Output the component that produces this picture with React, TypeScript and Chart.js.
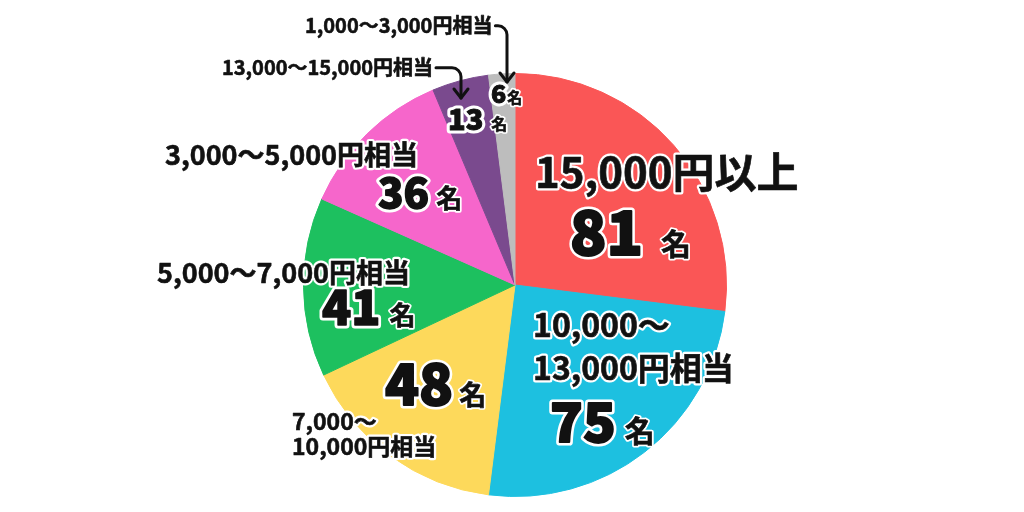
import { useEffect, useRef } from 'react';
import { Chart, registerables } from 'chart.js';

Chart.register(...registerables);

// 回答者数（合計300名）— 12時の位置から時計回り
const categories = [
  '15,000円以上',
  '10,000～13,000円相当',
  '7,000～10,000円相当',
  '5,000～7,000円相当',
  '3,000～5,000円相当',
  '13,000～15,000円相当',
  '1,000～3,000円相当',
];
const counts = [81, 75, 48, 41, 36, 13, 6];
const unit = '名';
const sliceColors = ['#fa5656', '#1dc0e0', '#fdd95b', '#1dc05f', '#f666cb', '#7a4a8e', '#bdbdbd'];

const FONT = "'Noto Sans CJK JP', 'Noto Sans', sans-serif";

// label layout, offsets from the pie centre (px)
type Layout = {
  lines: { dx: number; dy: number }[];
  breakAfterTilde: boolean;
  nameSize: number;
  num: { dx: number; dy: number; size: number };
  unitSize: number;
  unitGap: number;
  arrow?: { x: number; tip: number };
};

const LAYOUT: Layout[] = [
  { lines: [{ dx: 20, dy: -97 }], breakAfterTilde: false, nameSize: 42, num: { dx: 55, dy: -30, size: 60 }, unitSize: 30, unitGap: 18 },
  { lines: [{ dx: 18, dy: 52 }, { dx: 18, dy: 95 }], breakAfterTilde: true, nameSize: 32, num: { dx: 35, dy: 157, size: 54 }, unitSize: 30, unitGap: 9 },
  { lines: [{ dx: -223, dy: 145 }, { dx: -223, dy: 170 }], breakAfterTilde: true, nameSize: 23, num: { dx: -130, dy: 120, size: 56 }, unitSize: 27, unitGap: 6 },
  { lines: [{ dx: -358, dy: -2 }], breakAfterTilde: false, nameSize: 27, num: { dx: -193, dy: 40, size: 48 }, unitSize: 26, unitGap: 9 },
  { lines: [{ dx: -350, dy: -120 }], breakAfterTilde: false, nameSize: 27, num: { dx: -137, dy: -77, size: 42 }, unitSize: 26, unitGap: 7 },
  { lines: [{ dx: -293, dy: -210 }], breakAfterTilde: false, nameSize: 20, num: { dx: -67, dy: -155, size: 29 }, unitSize: 16, unitGap: 8, arrow: { x: -54, tip: -187 } },
  { lines: [{ dx: -210, dy: -252 }], breakAfterTilde: false, nameSize: 20, num: { dx: -24, dy: -182, size: 25 }, unitSize: 15, unitGap: 1, arrow: { x: -8, tip: -203 } },
];

function outlined(ctx: CanvasRenderingContext2D, text: string, x: number, y: number, font: string, stroke: number, heavy = 0) {
  ctx.font = font;
  ctx.lineWidth = stroke;
  ctx.strokeStyle = '#ffffff';
  ctx.strokeText(text, x, y);
  if (heavy > 0) {
    ctx.lineWidth = heavy;
    ctx.strokeStyle = '#111111';
    ctx.strokeText(text, x, y);
  }
  ctx.fillStyle = '#111111';
  ctx.fillText(text, x, y);
  return ctx.measureText(text).width;
}

const labelPlugin = {
  id: 'sliceLabels',
  afterDraw(chart: Chart) {
    const ctx = chart.ctx;
    const arcs = chart.getDatasetMeta(0).data as any[];
    if (!arcs.length) return;
    const cx = arcs[0].x;
    const cy = arcs[0].y;
    ctx.save();
    ctx.textAlign = 'left';
    ctx.textBaseline = 'alphabetic';
    ctx.lineJoin = 'round';
    ctx.lineCap = 'round';

    categories.forEach((name, i) => {
      const L = LAYOUT[i];
      const cut = name.indexOf('～') + 1;
      const parts = L.breakAfterTilde ? [name.slice(0, cut), name.slice(cut)] : [name];
      let lastEnd = 0;
      parts.forEach((p, k) => {
        const pos = L.lines[k];
        const w = outlined(ctx, p, cx + pos.dx, cy + pos.dy, `bold ${L.nameSize}px ${FONT}`, 5, 0.6);
        lastEnd = cx + pos.dx + w;
      });

      if (L.arrow) {
        const y0 = cy + L.lines[0].dy - L.nameSize * 0.36;
        const ax = cx + L.arrow.x;
        const tip = cy + L.arrow.tip;
        const r = 9;
        ctx.strokeStyle = '#111111';
        ctx.lineWidth = 3;
        ctx.beginPath();
        ctx.moveTo(lastEnd + 3, y0);
        ctx.lineTo(ax - r, y0);
        ctx.arcTo(ax, y0, ax, y0 + r, r);
        ctx.lineTo(ax, tip);
        ctx.stroke();
        ctx.beginPath();
        ctx.moveTo(ax - 7, tip - 9);
        ctx.lineTo(ax, tip);
        ctx.lineTo(ax + 7, tip - 9);
        ctx.stroke();
      }

      const nx = cx + L.num.dx;
      const ny = cy + L.num.dy;
      const nw = outlined(ctx, String(counts[i]), nx, ny, `900 ${L.num.size}px ${FONT}`, 7, Math.max(1, L.num.size / 30));
      outlined(ctx, unit, nx + nw + L.unitGap, ny, `bold ${L.unitSize}px ${FONT}`, 4, 0.6);
    });
    ctx.restore();
  },
};

export default function App() {
  const canvasRef = useRef<HTMLCanvasElement>(null);
  const chartRef = useRef<Chart | null>(null);

  useEffect(() => {
    if (!canvasRef.current) return;
    chartRef.current?.destroy();

    chartRef.current = new Chart(canvasRef.current, {
      type: 'pie',
      data: {
        labels: categories,
        datasets: [{
          data: counts,
          backgroundColor: sliceColors,
          borderColor: sliceColors,
          borderWidth: 1,
          hoverOffset: 0,
          offset: 0,
        }],
      },
      options: {
        responsive: false,
        animation: false,
        layout: { padding: { top: 73, bottom: 15, left: 6, right: 0 } },
        plugins: {
          legend: { display: false },
          tooltip: { enabled: false },
        },
      },
      plugins: [labelPlugin],
    });

    return () => { chartRef.current?.destroy(); };
  }, []);

  return (
    <div style={{ position: 'fixed', left: 0, top: 0, width: 1024, height: 512, background: '#fff' }}>
      <canvas ref={canvasRef} width={1024} height={512} />
    </div>
  );
}
